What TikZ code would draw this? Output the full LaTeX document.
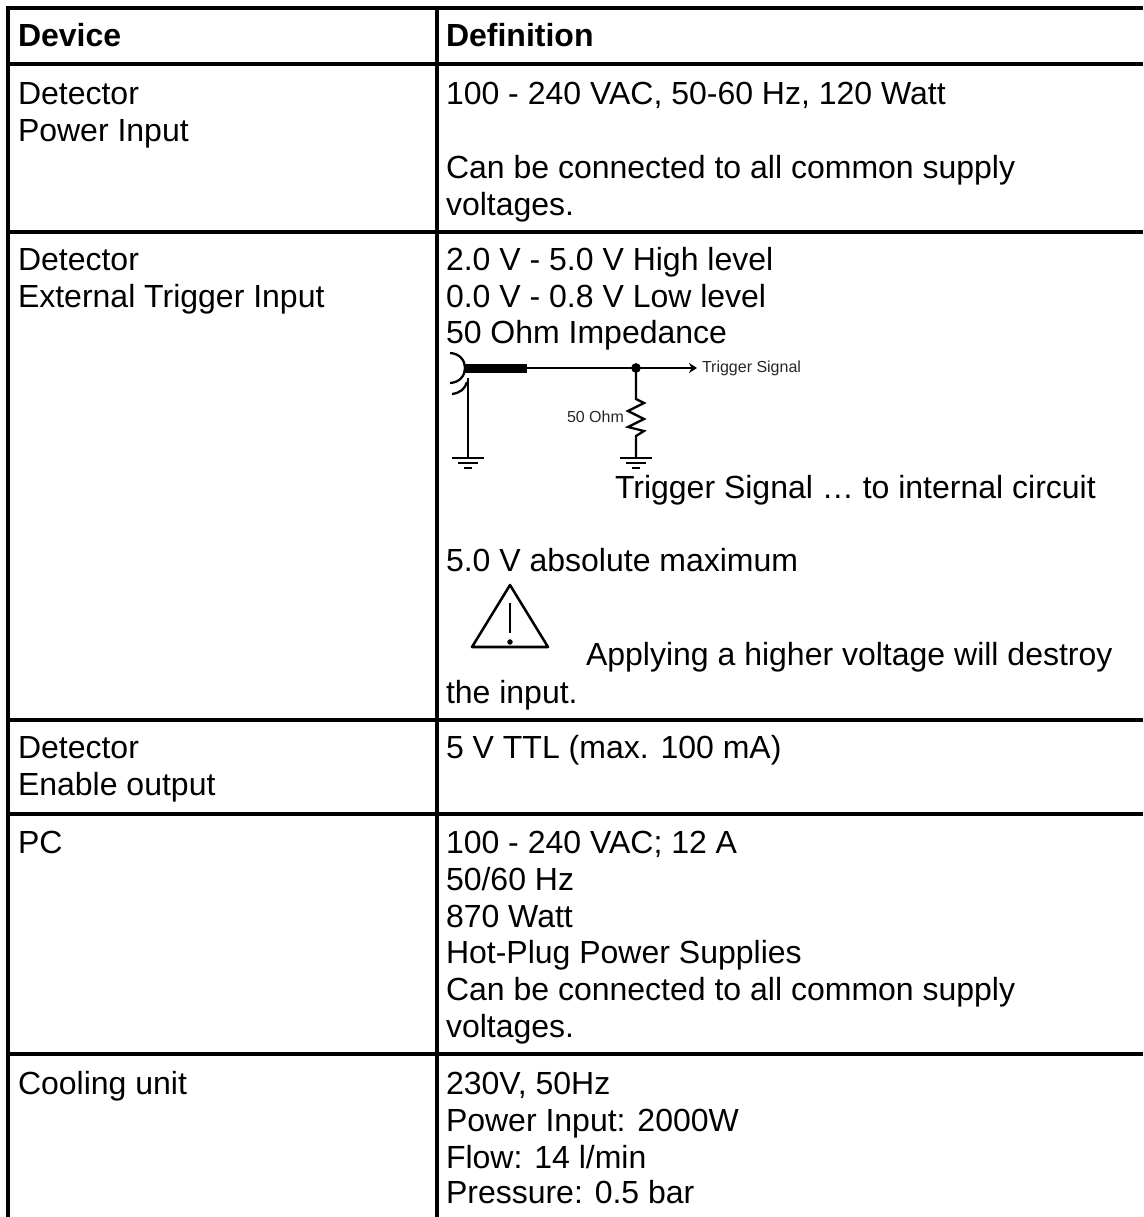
\documentclass[tikz,border=0pt]{standalone}
\usepackage{fontspec}
\usetikzlibrary{arrows.meta}
\setmainfont{Liberation Sans}
\tikzset{
	rule/.style={line width=3pt},
	txt/.style={anchor=base west, inner sep=0pt, outer sep=0pt, font=\fontsize{24pt}{29pt}\selectfont},
	small/.style={anchor=base west, inner sep=0pt, outer sep=0pt, font=\fontsize{12pt}{14pt}\selectfont, text=black!85},
	wire/.style={line width=1.7pt}
}
\begin{document}
\begin{tikzpicture}[x=0.75pt, y=-0.75pt, >={Stealth[length=6pt,width=7.5pt]}]
	\useasboundingbox (0,0) rectangle (1143,1217);
	% table rules
	\foreach \r in {8,64,232,720,814,1054}{
		\draw[rule](6,\r)--(1143,\r);
	}
	\draw[rule](8,6)--(8,1217);
	\draw[rule](437,6)--(437,1217);
	% left column
	\node[txt] (device) at (18,46) {\textbf{Device}};
	\node[txt] (det1) at (18,104) {Detector};
	\node[txt] (power) at (18,141) {Power Input};
	\node[txt] (det2) at (18,270) {Detector};
	\node[txt] (trigin) at (18,307) {External Trigger Input};
	\node[txt] (det3) at (18,758) {Detector};
	\node[txt] (enable) at (18,795) {Enable output};
	\node[txt] (pc) at (18,853) {PC};
	\node[txt] (cool) at (18,1094) {Cooling unit};
	% right column
	\node[txt] (defn) at (446,46) {\textbf{Definition}};
	\node[txt] at (446,104) {100 - 240 VAC, 50-60 Hz, 120 Watt};
	\node[txt] at (446,178) {Can be connected to all common supply};
	\node[txt] at (446,215) {voltages.};
	\node[txt] at (446,270) {2.0 V - 5.0 V High level};
	\node[txt] at (446,307) {0.0 V - 0.8 V Low level};
	\node[txt] at (446,343) {50 Ohm Impedance};
	\node[txt] at (615,498) {Trigger Signal … to internal circuit};
	\node[txt] at (446,571) {5.0 V absolute maximum};
	\node[txt] at (586,665) {Applying a higher voltage will destroy};
	\node[txt] at (446,703) {the input.};
	\node[txt] at (446,758) {5 V TTL (max. 100 mA)};
	\node[txt] at (446,853) {100 - 240 VAC; 12 A};
	\node[txt] at (446,890) {50/60 Hz};
	\node[txt] at (446,927) {870 Watt};
	\node[txt] at (446,963) {Hot-Plug Power Supplies};
	\node[txt] at (446,1000) {Can be connected to all common supply};
	\node[txt] at (446,1037) {voltages.};
	\node[txt] at (446,1094) {230V, 50Hz};
	\node[txt] at (446,1131) {Power Input: 2000W};
	\node[txt] at (446,1168) {Flow: 14 l/min};
	\node[txt] at (446,1203) {Pressure: 0.5 bar};
	% trigger circuit
	\coordinate (tee) at (636,368);
	\coordinate (tip) at (697,368);
	\coordinate (gndA) at (468,458);
	\coordinate (gndB) at (636,458);
	\draw[wire](450,353) .. controls (470,354) and (470,382) .. (450,383);
	\draw[wire](452,394) .. controls (460,393) and (465,389) .. (467,382);
	\draw[line width=6.4pt](465,368.5)--(527,368.5);
	\draw[wire](527,368)--(tee);
	\draw[wire,->](tee)--(tip);
	\draw[fill=black](tee) circle (3.4pt);
	\node[small] (sig) at (702,372) {Trigger Signal};
	\draw[wire](468,378)--(gndA);
	\draw[wire](tee)--(636,399)--(644,403)--(628,411)--(644,419)--(628,427)--(644,431)--(636,436)--(gndB);
	\node[small] (ohm) at (567,422) {50 Ohm};
	\foreach \g in {468,636}{
		\draw[wire](\g-16,458)--(\g+16,458);
		\draw[wire](\g-10,463)--(\g+10,463);
		\draw[wire](\g-4,468)--(\g+4,468);
	}
	% warning sign
	\draw[line width=1.9pt, line join=round](510,585)--(548,647)--(472,647)--cycle;
	\draw[line width=1.7pt](510,603)--(510,633);
	\draw[fill=black](510,642) circle (1.8pt);
\end{tikzpicture}
\end{document}
